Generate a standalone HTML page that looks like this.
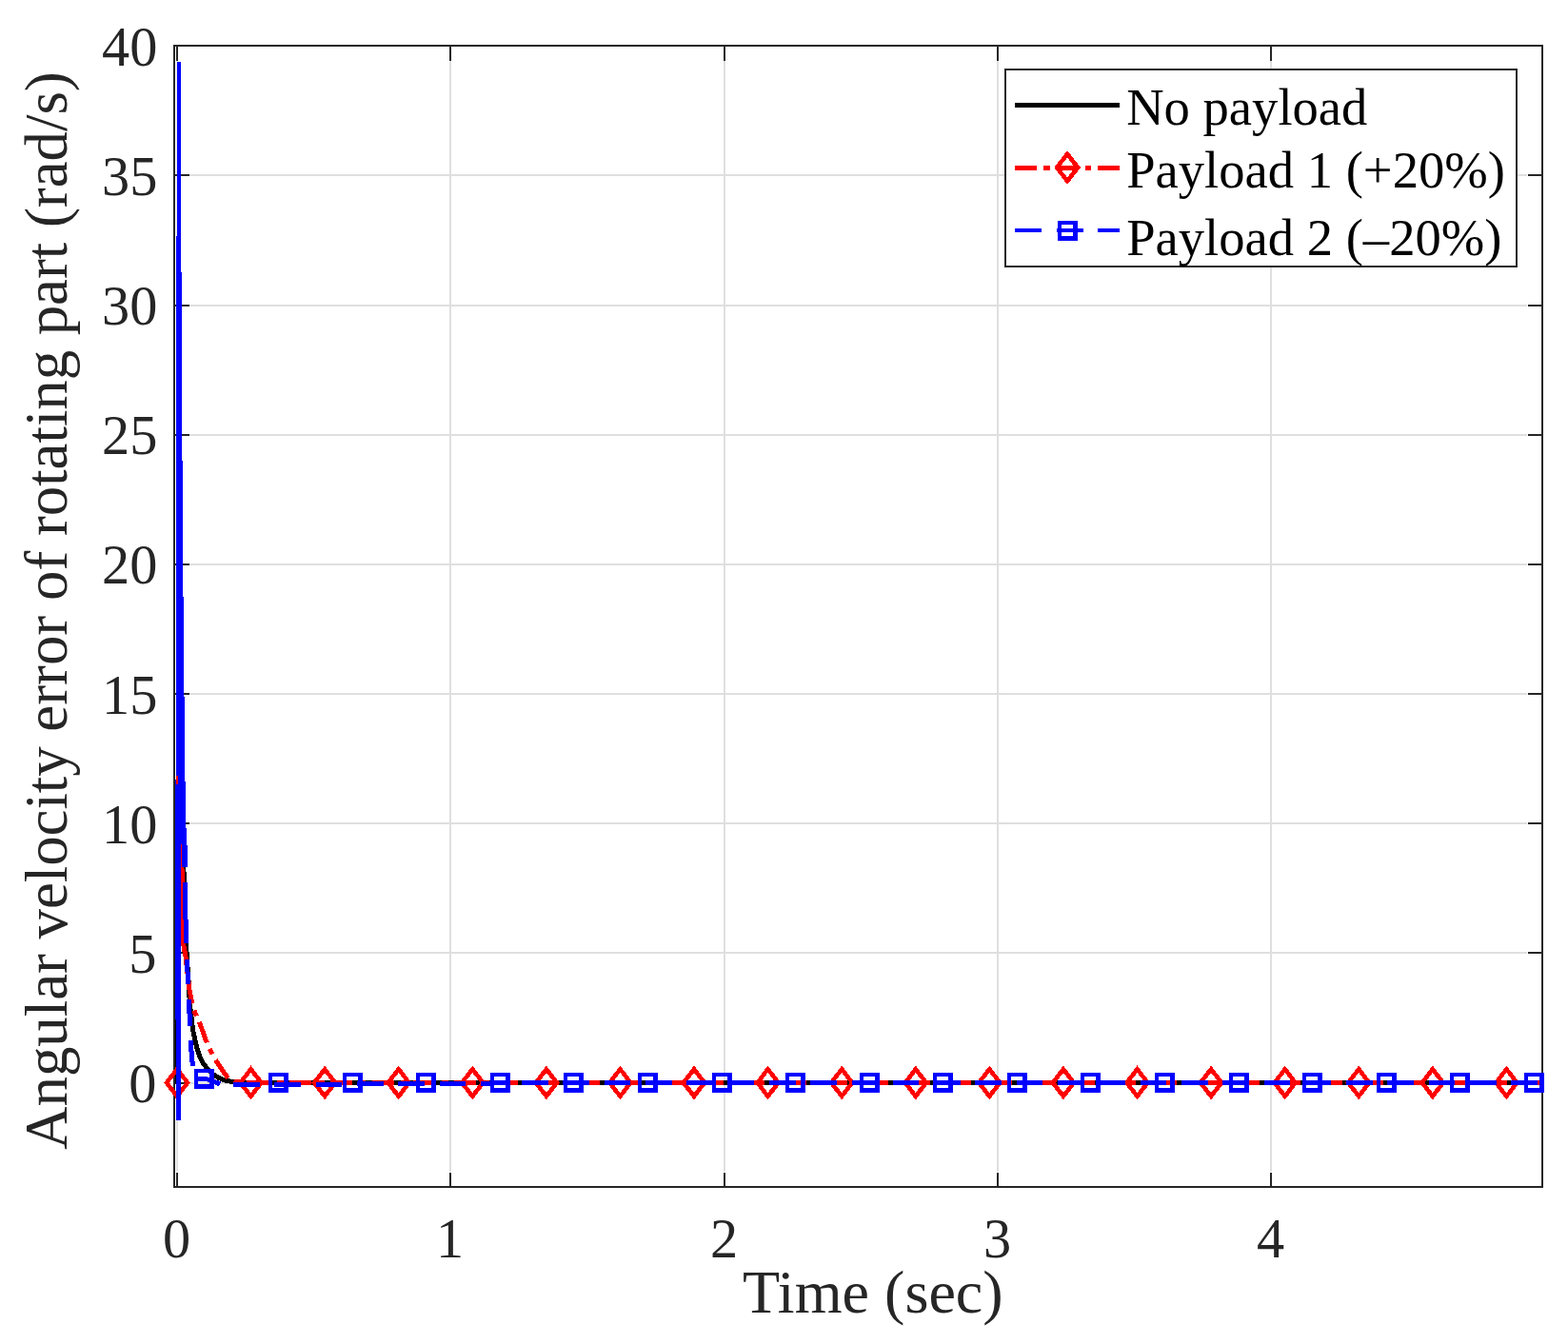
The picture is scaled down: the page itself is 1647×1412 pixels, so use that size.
<!DOCTYPE html>
<html lang="en"><head><meta charset="utf-8">
<title>Angular velocity error of rotating part</title>
<style>
html,body{margin:0;padding:0;background:#fff;}
body{width:1647px;height:1412px;overflow:hidden;}
svg{display:block;}
text{font-family:"Liberation Serif", "Times New Roman", Times, serif;}
.tick{font-size:58.33px;fill:#262626;}
.lab{font-size:64.17px;fill:#262626;}
.leg{font-size:54.6px;fill:#000;}
</style></head><body>
<svg width="1647" height="1412" viewBox="0 0 1647 1412">
<rect x="0" y="0" width="1647" height="1412" fill="#ffffff"/>
<defs><clipPath id="ax"><rect x="184" y="49" width="1435" height="1197"/></clipPath></defs>
<g id="grid" stroke="#dfdfdf" stroke-width="2" shape-rendering="crispEdges">
<line x1="186" y1="64" x2="186" y2="1231"/>
<line x1="473" y1="64" x2="473" y2="1231"/>
<line x1="761" y1="64" x2="761" y2="1231"/>
<line x1="1048" y1="64" x2="1048" y2="1231"/>
<line x1="1335" y1="64" x2="1335" y2="1231"/>
<line x1="199" y1="1138" x2="1604" y2="1138"/>
<line x1="199" y1="1001" x2="1604" y2="1001"/>
<line x1="199" y1="865" x2="1604" y2="865"/>
<line x1="199" y1="729" x2="1604" y2="729"/>
<line x1="199" y1="593" x2="1604" y2="593"/>
<line x1="199" y1="457" x2="1604" y2="457"/>
<line x1="199" y1="321" x2="1604" y2="321"/>
<line x1="199" y1="184" x2="1604" y2="184"/>
</g>
<g id="axes" stroke="#262626" stroke-width="2" fill="none" shape-rendering="crispEdges">
<rect x="183" y="48" width="1437" height="1199"/>
<line x1="186" y1="1247" x2="186" y2="1232"/>
<line x1="186" y1="48" x2="186" y2="64"/>
<line x1="473" y1="1247" x2="473" y2="1232"/>
<line x1="473" y1="48" x2="473" y2="64"/>
<line x1="761" y1="1247" x2="761" y2="1232"/>
<line x1="761" y1="48" x2="761" y2="64"/>
<line x1="1048" y1="1247" x2="1048" y2="1232"/>
<line x1="1048" y1="48" x2="1048" y2="64"/>
<line x1="1335" y1="1247" x2="1335" y2="1232"/>
<line x1="1335" y1="48" x2="1335" y2="64"/>
<line x1="183" y1="1138" x2="199" y2="1138"/>
<line x1="1620" y1="1138" x2="1605" y2="1138"/>
<line x1="183" y1="1001" x2="199" y2="1001"/>
<line x1="1620" y1="1001" x2="1605" y2="1001"/>
<line x1="183" y1="865" x2="199" y2="865"/>
<line x1="1620" y1="865" x2="1605" y2="865"/>
<line x1="183" y1="729" x2="199" y2="729"/>
<line x1="1620" y1="729" x2="1605" y2="729"/>
<line x1="183" y1="593" x2="199" y2="593"/>
<line x1="1620" y1="593" x2="1605" y2="593"/>
<line x1="183" y1="457" x2="199" y2="457"/>
<line x1="1620" y1="457" x2="1605" y2="457"/>
<line x1="183" y1="321" x2="199" y2="321"/>
<line x1="1620" y1="321" x2="1605" y2="321"/>
<line x1="183" y1="184" x2="199" y2="184"/>
<line x1="1620" y1="184" x2="1605" y2="184"/>
</g>
<g id="c0" clip-path="url(#ax)" fill="none" stroke-linejoin="round" shape-rendering="crispEdges">
<polyline points="186.6,1138 186.8,872 188.5,882 190.5,895 193.5,920 195.5,995 197,1016 198.5,1037 199.3,1055 201.4,1071 202.6,1082 206.5,1100 210.1,1111 214,1118 217.8,1122.7 223,1128 230,1132.5 237,1135.3 245,1136.6 258,1137.5 300,1137.5" stroke="#000000" stroke-width="5"/>
<line x1="300" y1="1137.5" x2="1620" y2="1137.5" stroke="#000000" stroke-width="5" shape-rendering="crispEdges"/>
</g>
<g id="c1" clip-path="url(#ax)" fill="none" stroke="#ff0000" stroke-width="5" stroke-linejoin="round" shape-rendering="crispEdges">
<polyline points="187.2,1138 187.2,815 188.6,850 190.8,887 191.3,950 192.3,990 195,1005 197.3,1025 199,1040 202,1054.6"/>
<polyline points="204.1,1061.4 205,1064.5 206.4,1067.5"/>
<polyline points="209.4,1073.8 217.2,1095.4 217.2,1095.4"/>
<polyline points="220.2,1101.8 221.5,1104.5 223.2,1107.5"/>
<polyline points="226.6,1113.6 233,1123.5 239.5,1132.7"/>
<polyline points="245.8,1135.7 247,1136.2 252.1,1136.8"/>
<polyline points="259.1,1137.5 262,1137.5"/>
<line x1="260.7" y1="1137.5" x2="1620" y2="1137.5" stroke-dasharray="23 7 7 6.3" shape-rendering="crispEdges"/>
</g>
<g id="m1" fill="none" stroke="#ff0000" stroke-width="4.6" stroke-miterlimit="10" shape-rendering="crispEdges">
<polygon points="175,1137.5 186,1123.25 197,1137.5 186,1151.75"/>
<polygon points="252.5,1137.5 263.5,1123.25 274.5,1137.5 263.5,1151.75"/>
<polygon points="330.1,1137.5 341.1,1123.25 352.1,1137.5 341.1,1151.75"/>
<polygon points="407.7,1137.5 418.7,1123.25 429.7,1137.5 418.7,1151.75"/>
<polygon points="485.3,1137.5 496.3,1123.25 507.3,1137.5 496.3,1151.75"/>
<polygon points="562.9,1137.5 573.9,1123.25 584.9,1137.5 573.9,1151.75"/>
<polygon points="640.4,1137.5 651.4,1123.25 662.4,1137.5 651.4,1151.75"/>
<polygon points="718,1137.5 729,1123.25 740,1137.5 729,1151.75"/>
<polygon points="795.6,1137.5 806.6,1123.25 817.6,1137.5 806.6,1151.75"/>
<polygon points="873.2,1137.5 884.2,1123.25 895.2,1137.5 884.2,1151.75"/>
<polygon points="950.8,1137.5 961.8,1123.25 972.8,1137.5 961.8,1151.75"/>
<polygon points="1028.3,1137.5 1039.3,1123.25 1050.3,1137.5 1039.3,1151.75"/>
<polygon points="1105.9,1137.5 1116.9,1123.25 1127.9,1137.5 1116.9,1151.75"/>
<polygon points="1183.5,1137.5 1194.5,1123.25 1205.5,1137.5 1194.5,1151.75"/>
<polygon points="1261.1,1137.5 1272.1,1123.25 1283.1,1137.5 1272.1,1151.75"/>
<polygon points="1338.7,1137.5 1349.7,1123.25 1360.7,1137.5 1349.7,1151.75"/>
<polygon points="1416.2,1137.5 1427.2,1123.25 1438.2,1137.5 1427.2,1151.75"/>
<polygon points="1493.8,1137.5 1504.8,1123.25 1515.8,1137.5 1504.8,1151.75"/>
<polygon points="1571.4,1137.5 1582.4,1123.25 1593.4,1137.5 1582.4,1151.75"/>
</g>
<g id="c2" clip-path="url(#ax)" fill="#0000ff" stroke="none" shape-rendering="crispEdges">
<polygon points="185.8,65 185.3,400 185,780 184,860 184,1040 185,1100 185,1177 190,1177 190,1100 190,1040 190,930 190,887 191,887 191.5,911 197,911 197,895 196,880 195,860 194,780 192.6,640 191.2,440 190.3,240 190,65"/>
<rect x="185" y="815" width="2" height="9" fill="#ff0000"/>
</g>
<g id="c2b" clip-path="url(#ax)" fill="none" stroke="#0000ff" stroke-width="5" shape-rendering="crispEdges">
<polyline points="194.6,927 194.9,960 195.5,991"/>
<polyline points="196.4,1008 197.6,1034"/>
<polyline points="198.5,1050 199.5,1078"/>
<polyline points="200.4,1093 201.2,1108 202.5,1120"/>
<polyline points="205,1133.2 214.5,1133.5 222,1134.6 231,1139"/>
<polyline points="245.1,1139.3 320,1139.3 450,1138.4 600,1137.5 1620,1137.5" stroke-dasharray="27.6 15.7"/>
</g>
<g id="m2" fill="#0000ff" fill-rule="evenodd" stroke="none" shape-rendering="crispEdges">
<path d="M204 1123h21v21h-21zM208 1127v12h12v-12z"/>
<path d="M282 1127h21v21h-21zM286 1131v12h12v-12z"/>
<path d="M360 1127h21v21h-21zM364 1131v12h12v-12z"/>
<path d="M437 1127h21v21h-21zM441 1131v12h12v-12z"/>
<path d="M515 1127h21v21h-21zM519 1131v12h12v-12z"/>
<path d="M592 1127h21v21h-21zM596 1131v12h12v-12z"/>
<path d="M670 1127h21v21h-21zM674 1131v12h12v-12z"/>
<path d="M748 1127h21v21h-21zM752 1131v12h12v-12z"/>
<path d="M825 1127h21v21h-21zM829 1131v12h12v-12z"/>
<path d="M903 1127h21v21h-21zM907 1131v12h12v-12z"/>
<path d="M980 1127h21v21h-21zM984 1131v12h12v-12z"/>
<path d="M1058 1127h21v21h-21zM1062 1131v12h12v-12z"/>
<path d="M1135 1127h21v21h-21zM1139 1131v12h12v-12z"/>
<path d="M1213 1127h21v21h-21zM1217 1131v12h12v-12z"/>
<path d="M1291 1127h21v21h-21zM1295 1131v12h12v-12z"/>
<path d="M1368 1127h21v21h-21zM1372 1131v12h12v-12z"/>
<path d="M1446 1127h21v21h-21zM1450 1131v12h12v-12z"/>
<path d="M1523 1127h21v21h-21zM1527 1131v12h12v-12z"/>
<path d="M1601 1127h21v21h-21zM1605 1131v12h12v-12z"/>
</g>
<g id="yticks" class="tick" text-anchor="end">
<text x="164.4" y="1158">0</text>
<text x="164.4" y="1021.9">5</text>
<text x="165.3" y="885.7">10</text>
<text x="165.3" y="749.5">15</text>
<text x="165.3" y="613.4">20</text>
<text x="165.3" y="477.3">25</text>
<text x="165.3" y="341.1">30</text>
<text x="165.3" y="204.9">35</text>
<text x="165.3" y="68.8">40</text>
</g>
<g id="xticks" class="tick" text-anchor="middle">
<text x="185.7" y="1320.7">0</text>
<text x="472.7" y="1320.7">1</text>
<text x="760.7" y="1320.7">2</text>
<text x="1047.7" y="1320.7">3</text>
<text x="1334.7" y="1320.7">4</text>
</g>
<text class="lab" text-anchor="middle" x="916.8" y="1379.2">Time (sec)</text>
<text class="lab" text-anchor="middle" transform="translate(69.6 641.5) rotate(-90) scale(0.978 1)">Angular velocity error of rotating part (rad/s)</text>
<g id="legend">
<rect x="1056" y="73" width="537" height="207" fill="#ffffff" stroke="#262626" stroke-width="2" shape-rendering="crispEdges"/>
<line x1="1066" y1="110.5" x2="1176" y2="110.5" stroke="#000" stroke-width="5" shape-rendering="crispEdges"/>
<line x1="1066" y1="176.5" x2="1176" y2="176.5" stroke="#ff0000" stroke-width="5" stroke-dasharray="23 7 7 7 23 7 6 7 23" shape-rendering="crispEdges"/>
<g fill="none" stroke="#ff0000" stroke-width="4.6" stroke-miterlimit="10" shape-rendering="crispEdges"><polygon points="1110.1,176 1121.1,161.75 1132.1,176 1121.1,190.25"/></g>
<line x1="1066" y1="242" x2="1176" y2="242" stroke="#0000ff" stroke-width="4" stroke-dasharray="28 16 28 15 23" shape-rendering="crispEdges"/>
<g fill="#0000ff" fill-rule="evenodd" shape-rendering="crispEdges"><path d="M1111 232h21v21h-21zM1115 236v12h12v-12z"/></g>
<text class="leg" x="1183.2" y="131">No payload</text>
<text class="leg" x="1183.2" y="197.1">Payload 1 (+20%)</text>
<text class="leg" x="1183.2" y="268.1">Payload 2 (–20%)</text>
</g>
</svg>
</body></html>
